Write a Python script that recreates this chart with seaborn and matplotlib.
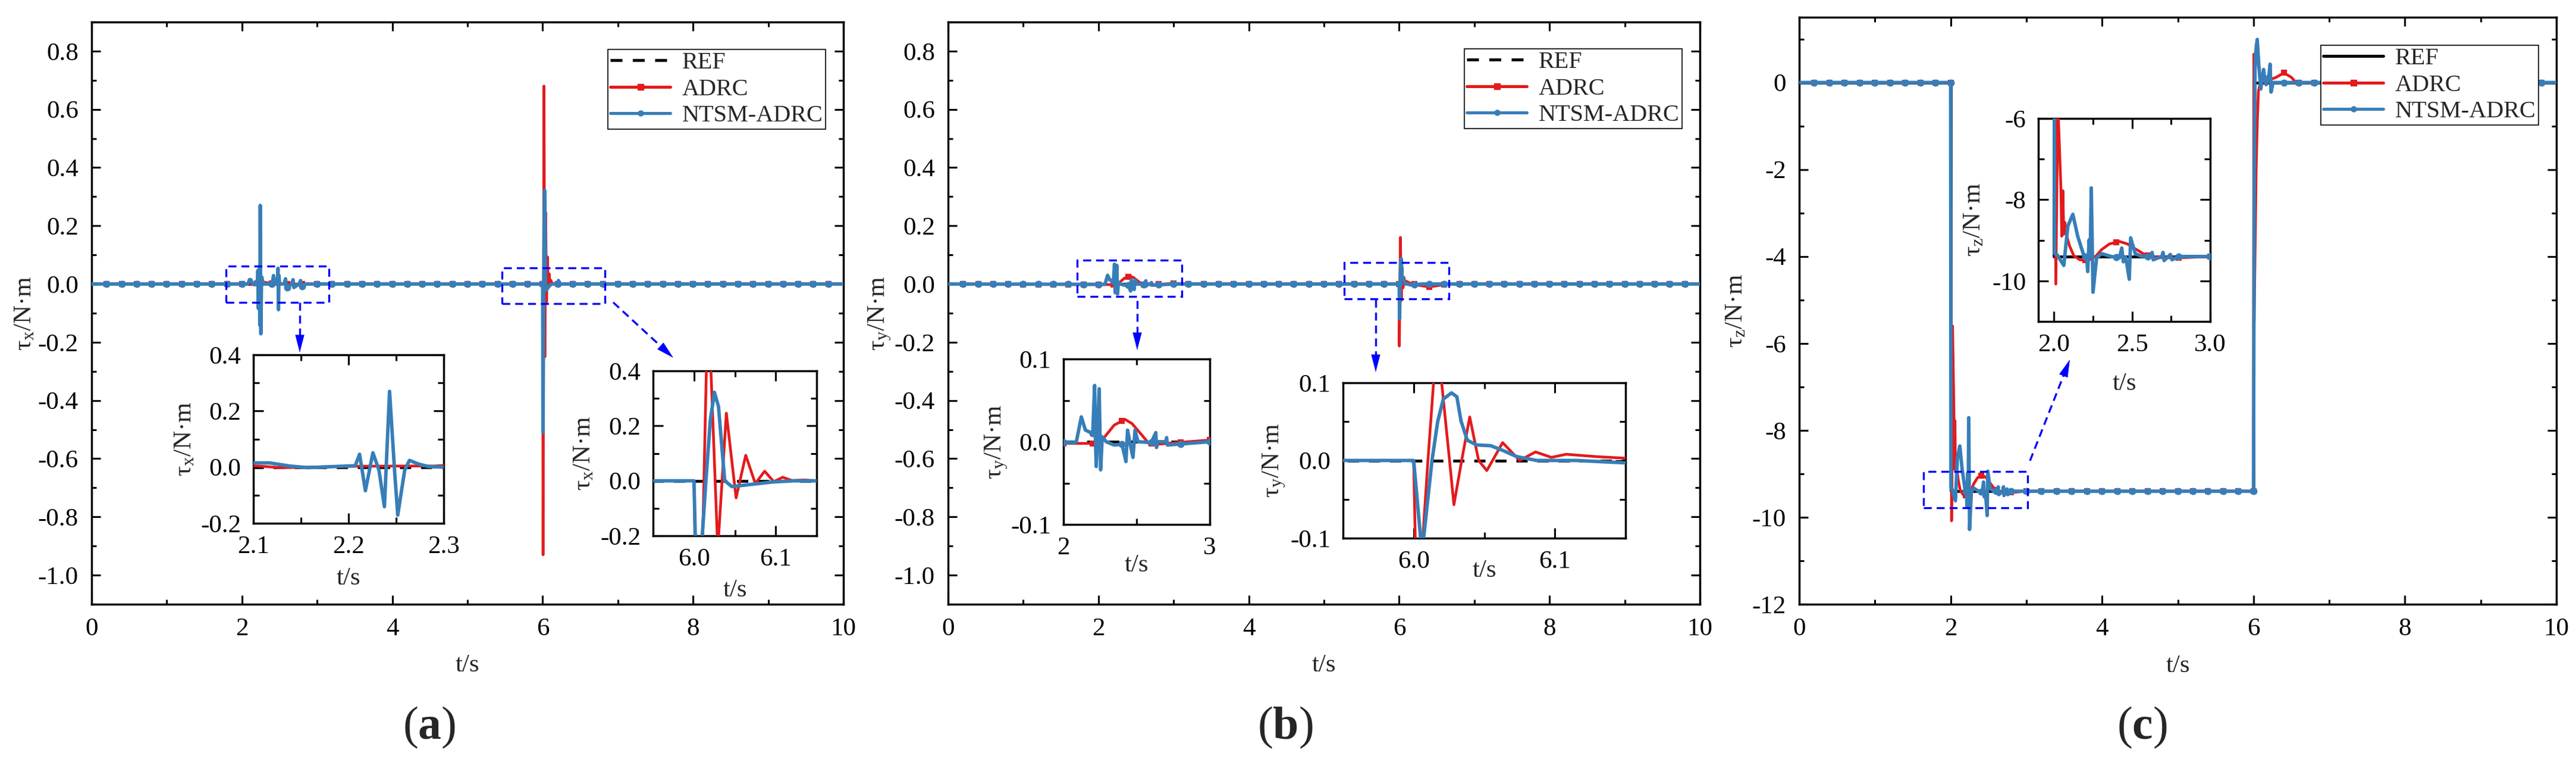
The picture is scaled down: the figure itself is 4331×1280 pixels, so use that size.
"""
Control torque tracking: REF vs ADRC vs NTSM-ADRC, three channels with zoomed insets.
"""

import numpy as np
import matplotlib
matplotlib.use("Agg")
import matplotlib.pyplot as plt
import seaborn as sns
from matplotlib.lines import Line2D
from matplotlib.patches import Rectangle, FancyArrowPatch
from matplotlib.ticker import MultipleLocator, FormatStrFormatter

# ---------------------------------------------------------------------------
# Data
# ---------------------------------------------------------------------------

# symbol stations used by the plotting software (s)
MARK_T = [round(0.2 * k, 1) for k in range(1, 50)]

# (a) tau_x
A_REF_T = [0.0, 10.0]
A_REF_Y = [0.0, 0.0]
A_ADRC_T = [0.0, 2.08, 2.10, 2.13, 2.20, 2.26, 2.29, 2.30, 2.35, 2.45,
            6.00, 6.0053, 6.0172, 6.0291, 6.0396, 6.0515, 6.0633, 6.0750,
            6.0864, 6.0976, 6.1085, 6.120, 6.135, 6.150, 10.0]
A_ADRC_Y = [0.0, 0.0, 0.005, -0.002, 0.003, 0.004, 0.004, 0.006, 0.004, 0.0,
            0.0, -0.93, 0.68, -0.25, 0.246, -0.062, 0.093, -0.010,
            0.035, -0.003, 0.013, 0.001, 0.003, 0.0, 0.0]
A_NTSM_T = [0.0, 2.08, 2.100, 2.117, 2.138, 2.157, 2.184, 2.207, 2.2116, 2.2177,
            2.2256, 2.232, 2.2377, 2.2431, 2.2485, 2.2517, 2.259, 2.264, 2.2735,
            2.284, 2.300, 2.40, 2.42, 2.44, 2.47, 2.480, 2.486, 2.492, 2.50,
            2.56, 2.58, 2.59, 2.66, 2.68, 2.69, 2.76, 2.78, 2.79, 2.85,
            6.000, 6.0024, 6.0045, 6.009, 6.0146, 6.020, 6.025, 6.030, 6.0376,
            6.0464, 6.073, 6.097, 6.122, 6.20, 6.21, 6.23, 10.0]
A_NTSM_Y = [0.0, 0.0, 0.015, 0.015, 0.004, -0.002, 0.002, 0.005, 0.046, -0.084,
            0.051, -0.011, -0.141, 0.270, -0.019, -0.171, -0.011, 0.024, 0.011,
            0.002, 0.0, 0.0, 0.029, 0.0, 0.0, 0.054, -0.088, 0.03, 0.0,
            0.0, 0.018, -0.015, 0.0, 0.015, -0.012, 0.0, 0.012, -0.01, 0.0,
            0.0, -0.30, -0.51, -0.25, 0.0, 0.22, 0.322, 0.27, 0.0,
            -0.021, -0.012, -0.004, 0.0, 0.0, 0.012, 0.0, 0.0]

# (b) tau_y
B_REF_T = [0.0, 10.0]
B_REF_Y = [0.0, 0.0]
B_ADRC_T = [0.0, 2.0, 2.2, 2.278, 2.346, 2.42, 2.468, 2.536, 2.583, 2.644, 2.78,
            3.0, 3.3, 6.0, 6.0024, 6.0101, 6.0165, 6.0254, 6.0285, 6.034, 6.0397,
            6.046, 6.0518, 6.063, 6.075, 6.0863, 6.0975, 6.108, 6.129, 6.149,
            6.25, 6.4, 6.55, 6.7, 10.0]
B_ADRC_Y = [0.0, -0.002, -0.002, 0.005, 0.020, 0.027, 0.022, 0.008, -0.002, -0.003, -0.001,
            0.002, 0.0, 0.0, -0.213, 0.0, 0.16, 0.0, -0.057, 0.0, 0.056,
            0.0, -0.013, 0.023, 0.0, 0.011, 0.004, 0.008, 0.005, 0.003,
            -0.004, -0.01, -0.004, 0.0, 0.0]
B_NTSM_T = [0.0, 2.0, 2.075, 2.088, 2.122, 2.15, 2.2, 2.213, 2.219, 2.224, 2.235,
            2.244, 2.254, 2.265, 2.292, 2.346, 2.4, 2.427, 2.438, 2.455, 2.475,
            2.489, 2.509, 2.6, 2.631, 2.636, 2.645, 2.7, 2.705, 2.71, 3.0,
            6.0, 6.0059, 6.013, 6.017, 6.021, 6.0268, 6.0306, 6.0335, 6.038,
            6.0446, 6.0546, 6.063, 6.073, 6.087, 6.115, 6.149, 6.3, 10.0]
B_NTSM_Y = [0.0, -0.001, -0.001, 0.0, 0.030, 0.014, 0.010, 0.068, 0.0, -0.030, 0.02,
            0.064, -0.034, 0.006, 0.0, -0.004, -0.003, -0.024, 0.014, -0.002, -0.019,
            0.014, 0.0, -0.001, 0.011, -0.007, 0.0, 0.0, 0.005, -0.004, 0.0,
            0.0, -0.119, 0.0, 0.05, 0.079, 0.087, 0.082, 0.051, 0.026,
            0.020, 0.019, 0.013, 0.005, 0.0, 0.0, -0.003, 0.0, 0.0]

# (c) tau_z
C_REF_T = [0.0, 2.0, 2.0, 6.0, 6.0, 10.0]
C_REF_Y = [0.0, 0.0, -9.4, -9.4, 0.0, 0.0]
C_ADRC_T = [0.0, 2.0, 2.012, 2.025, 2.044, 2.05, 2.057, 2.063, 2.07, 2.082,
            2.10, 2.127, 2.165, 2.216, 2.266, 2.305, 2.355, 2.419, 2.47, 2.52,
            2.584, 2.685, 2.812, 3.0, 6.0, 6.004, 6.008, 6.02, 6.035, 6.05,
            6.065, 6.09, 6.2, 6.3, 6.4, 6.5, 6.56, 10.0]
C_ADRC_Y = [0.0, 0.0, -10.08, -5.6, -7.66, -8.9, -7.78, -8.85, -8.56, -8.9,
            -9.14, -9.38, -9.48, -9.5, -9.40, -9.23, -9.09, -9.03, -9.09, -9.21,
            -9.36, -9.43, -9.43, -9.40, -9.40, 0.65, -5.5, -4.0, -2.0, -0.9,
            -0.2, 0.0, 0.05, 0.12, 0.22, 0.12, 0.0, 0.0]
C_NTSM_T = [0.0, 2.0, 2.004, 2.019, 2.063, 2.089, 2.121, 2.152, 2.19, 2.21,
            2.216, 2.225, 2.232, 2.239, 2.25, 2.273, 2.305, 2.368, 2.419, 2.434,
            2.444, 2.46, 2.482, 2.491, 2.52, 2.558, 2.62, 2.628, 2.635, 2.69,
            2.698, 2.705, 2.745, 2.755, 2.8, 6.0, 6.008, 6.02, 6.035, 6.049,
            6.07, 6.096, 6.115, 6.133, 6.15, 6.167, 6.2, 6.219, 6.232, 6.258, 10.0]
C_NTSM_Y = [0.0, 0.0, -9.33, -9.35, -9.62, -8.65, -8.36, -8.90, -9.36, -9.45,
            -9.77, -8.99, -9.40, -7.71, -10.28, -9.43, -9.33, -9.40, -9.43, -9.19,
            -9.53, -9.42, -9.96, -8.94, -9.33, -9.39, -9.40, -9.30, -9.48, -9.40,
            -9.30, -9.50, -9.35, -9.48, -9.40, -9.40, -3.0, 0.3, 0.8, 0.99,
            0.4, -0.15, 0.1, 0.30, 0.05, -0.05, 0.1, 0.42, -0.22, 0.0, 0.0]

LABELS = ["REF", "ADRC", "NTSM-ADRC"]

# ---------------------------------------------------------------------------
# Style
# ---------------------------------------------------------------------------

sns.set_style("ticks")
plt.rcParams["font.family"] = ["Liberation Serif", "DejaVu Serif"]
plt.rcParams["mathtext.fontset"] = "custom"
plt.rcParams["mathtext.rm"] = "Liberation Serif"
plt.rcParams["mathtext.it"] = "Liberation Serif:italic"
plt.rcParams["mathtext.bf"] = "Liberation Serif:bold"
plt.rcParams["axes.unicode_minus"] = False

_set1 = sns.color_palette("Set1")
RED = _set1[0]
BLUE = _set1[1]
ZOOM_BLUE = "#0000FF"
DASH = (0, (4, 3.5))

W, H = 4331, 1280
fig = plt.figure(figsize=(W / 100, H / 100), dpi=100)


def fx(px):
    return px / W


def fy(py):
    return 1 - py / H


def draw_series(ax, ref, adrc, ntsm, ref_ls, symbols=True):
    sns.lineplot(x=ref[0], y=ref[1], ax=ax, color="black", lw=3.4,
                 linestyle=ref_ls, estimator=None, sort=False, zorder=2)
    sns.lineplot(x=adrc[0], y=adrc[1], ax=ax, color=RED, lw=3.3,
                 estimator=None, sort=False, zorder=3)
    if symbols:
        sns.scatterplot(x=MARK_T, y=np.interp(MARK_T, adrc[0], adrc[1]), ax=ax,
                        color=RED, marker="s", s=45, linewidth=0, zorder=3)
    sns.lineplot(x=ntsm[0], y=ntsm[1], ax=ax, color=BLUE, lw=4.2,
                 estimator=None, sort=False, zorder=4)
    if symbols:
        sns.scatterplot(x=MARK_T, y=np.interp(MARK_T, ntsm[0], ntsm[1]), ax=ax,
                        color=BLUE, marker="o", s=75, linewidth=0, zorder=4)


def style_axes(ax, xlim, ylim, xmaj, xmin, ymaj, ymin, xfmt, yfmt,
               maj_len, min_len, pad):
    ax.set_xlim(xlim)
    ax.set_ylim(ylim)
    ax.xaxis.set_major_locator(MultipleLocator(xmaj))
    ax.xaxis.set_minor_locator(MultipleLocator(xmin))
    ax.yaxis.set_major_locator(MultipleLocator(ymaj))
    ax.yaxis.set_minor_locator(MultipleLocator(ymin))
    ax.xaxis.set_major_formatter(FormatStrFormatter(xfmt))
    ax.yaxis.set_major_formatter(FormatStrFormatter(yfmt))
    ax.tick_params(which="both", direction="in", top=True, right=True,
                   width=2.2, labelsize=31, pad=pad, colors="black")
    ax.tick_params(which="major", length=maj_len)
    ax.tick_params(which="minor", length=min_len)
    for sp in ax.spines.values():
        sp.set_linewidth(2.5)
        sp.set_color("black")
    ax.set_facecolor("white")
    ax.grid(False)


def set_labels(ax, ylab, xcoord, ycoord):
    ax.set_xlabel("t/s", fontsize=31)
    ax.set_ylabel(ylab, fontsize=31)
    ax.xaxis.set_label_coords(0.5, ycoord)
    ax.xaxis.label.set_va("center")
    ax.yaxis.set_label_coords(xcoord, 0.5)
    ax.yaxis.label.set_va("center")


def add_legend(ax, ref_ls, corner):
    handles = [
        Line2D([], [], color="black", lw=3.6, ls=ref_ls),
        Line2D([], [], color=RED, lw=3.6, marker="s", ms=6.5),
        Line2D([], [], color=BLUE, lw=3.6, marker="o", ms=6.5),
    ]
    leg = ax.legend(handles, LABELS, loc="upper right",
                    bbox_to_anchor=(fx(corner[0]), fy(corner[1])),
                    bbox_transform=fig.transFigure, fontsize=29,
                    frameon=True, fancybox=False, edgecolor="black",
                    framealpha=1, borderpad=0.1, labelspacing=0.18,
                    handlelength=2.5, handletextpad=0.5, borderaxespad=0)
    leg.get_frame().set_linewidth(1.2)
    leg.set_zorder(10)


def zoom_box(ax, x0, x1, y0, y1):
    ax.add_patch(Rectangle((x0, y0), x1 - x0, y1 - y0, fill=False,
                           ec=ZOOM_BLUE, lw=2.4, ls=(0, (4, 2.5)), zorder=6))


def dashed_arrow(p0, p1, head=28):
    # p0 -> p1 in figure pixels measured from the top-left corner
    v = np.array(p1, float) - np.array(p0, float)
    pm = np.array(p1, float) - v / np.hypot(*v) * head
    fig.add_artist(Line2D([fx(p0[0]), fx(pm[0])], [fy(p0[1]), fy(pm[1])],
                          transform=fig.transFigure, color=ZOOM_BLUE, lw=2.4,
                          ls=(0, (4, 2.5))))
    fig.add_artist(FancyArrowPatch((fx(pm[0]), fy(pm[1])), (fx(p1[0]), fy(p1[1])),
                                   transform=fig.transFigure,
                                   arrowstyle="-|>,head_length=1.0,head_width=0.26",
                                   mutation_scale=20, color=ZOOM_BLUE, lw=0.5,
                                   shrinkA=0, shrinkB=0))


def axes_px(x0, y0, x1, y1):
    return fig.add_axes([fx(x0), fy(y1), fx(x1 - x0), (y1 - y0) / H])


ylab = r"$\mathregular{\tau_%s}$/N·m"

# ---------------------------------------------------------------------------
# (a)
# ---------------------------------------------------------------------------
ax_a = axes_px(154, 37, 1418, 1015)
draw_series(ax_a, (A_REF_T, A_REF_Y), (A_ADRC_T, A_ADRC_Y), (A_NTSM_T, A_NTSM_Y), DASH)
style_axes(ax_a, (0, 10), (-1.1, 0.9), 2, 1, 0.2, 0.1, "%d", "%.1f", 11, 6, 16)
set_labels(ax_a, ylab % "x", -0.0886, -0.105)
add_legend(ax_a, DASH, (1388, 83))
zoom_box(ax_a, 1.79, 3.16, -0.063, 0.061)
zoom_box(ax_a, 5.46, 6.83, -0.068, 0.055)

ax_a1 = axes_px(426, 596, 746, 879)
draw_series(ax_a1, (A_REF_T, A_REF_Y), (A_ADRC_T, A_ADRC_Y), (A_NTSM_T, A_NTSM_Y), DASH, symbols=False)
style_axes(ax_a1, (2.1, 2.3), (-0.2, 0.4), 0.1, 0.05, 0.2, 0.1, "%.1f", "%.1f", 12, 7, 15)
set_labels(ax_a1, ylab % "x", -0.36, -0.326)

ax_a2 = axes_px(1098, 623, 1373, 900)
draw_series(ax_a2, (A_REF_T, A_REF_Y), (A_ADRC_T, A_ADRC_Y), (A_NTSM_T, A_NTSM_Y), DASH, symbols=False)
style_axes(ax_a2, (5.95, 6.15), (-0.2, 0.4), 0.1, 0.05, 0.2, 0.1, "%.1f", "%.1f", 12, 7, 15)
set_labels(ax_a2, ylab % "x", -0.42, -0.331)

dashed_arrow((504, 508), (504, 592))
dashed_arrow((1031, 508), (1132, 601))

# ---------------------------------------------------------------------------
# (b)
# ---------------------------------------------------------------------------
ax_b = axes_px(1594, 37, 2858, 1015)
draw_series(ax_b, (B_REF_T, B_REF_Y), (B_ADRC_T, B_ADRC_Y), (B_NTSM_T, B_NTSM_Y), DASH)
style_axes(ax_b, (0, 10), (-1.1, 0.9), 2, 1, 0.2, 0.1, "%d", "%.1f", 11, 6, 16)
set_labels(ax_b, ylab % "y", -0.091, -0.105)
add_legend(ax_b, DASH, (2828, 82))
zoom_box(ax_b, 1.72, 3.11, -0.042, 0.083)
zoom_box(ax_b, 5.27, 6.66, -0.051, 0.073)

ax_b1 = axes_px(1788, 603, 2034, 881)
draw_series(ax_b1, (B_REF_T, B_REF_Y), (B_ADRC_T, B_ADRC_Y), (B_NTSM_T, B_NTSM_Y), DASH)
style_axes(ax_b1, (2, 3), (-0.1, 0.1), 1, 0.5, 0.1, 0.05, "%d", "%.1f", 12, 7, 15)
set_labels(ax_b1, ylab % "y", -0.457, -0.247)

ax_b2 = axes_px(2258, 643, 2733, 904)
draw_series(ax_b2, (B_REF_T, B_REF_Y), (B_ADRC_T, B_ADRC_Y), (B_NTSM_T, B_NTSM_Y), DASH, symbols=False)
style_axes(ax_b2, (5.95, 6.15), (-0.1, 0.1), 0.1, 0.05, 0.1, 0.05, "%.1f", "%.1f", 12, 7, 15)
set_labels(ax_b2, ylab % "y", -0.243, -0.21)

dashed_arrow((1912, 505), (1912, 588))
dashed_arrow((2313, 503), (2313, 625))

# ---------------------------------------------------------------------------
# (c)
# ---------------------------------------------------------------------------
ax_c = axes_px(3025, 29, 4298, 1015)
draw_series(ax_c, (C_REF_T, C_REF_Y), (C_ADRC_T, C_ADRC_Y), (C_NTSM_T, C_NTSM_Y), "-")
style_axes(ax_c, (0, 10), (-12, 1.5), 2, 1, 2, 1, "%d", "%d", 11, 6, 16)
set_labels(ax_c, ylab % "z", -0.0833, -0.105)
add_legend(ax_c, "-", (4268, 76))
zoom_box(ax_c, 1.64, 3.02, -9.78, -8.95)

ax_c1 = axes_px(3427, 199, 3716, 540)
draw_series(ax_c1, (C_REF_T, C_REF_Y), (C_ADRC_T, C_ADRC_Y), (C_NTSM_T, C_NTSM_Y), "-")
style_axes(ax_c1, (1.9, 3.0), (-11, -6), 0.5, 0.25, 2, 1, "%.1f", "%d", 12, 7, 15)
set_labels(ax_c1, ylab % "z", -0.374, -0.308)

dashed_arrow((3413, 774), (3480, 604))

# panel tags
for xc, tag in [(722, "a"), (2161, "b"), (3601, "c")]:
    fig.text(fx(xc), 0.045, r"($\mathbf{%s}$)" % tag, fontsize=56,
             ha="center", va="center")

fig.savefig("out.png", dpi=100, facecolor="white")
